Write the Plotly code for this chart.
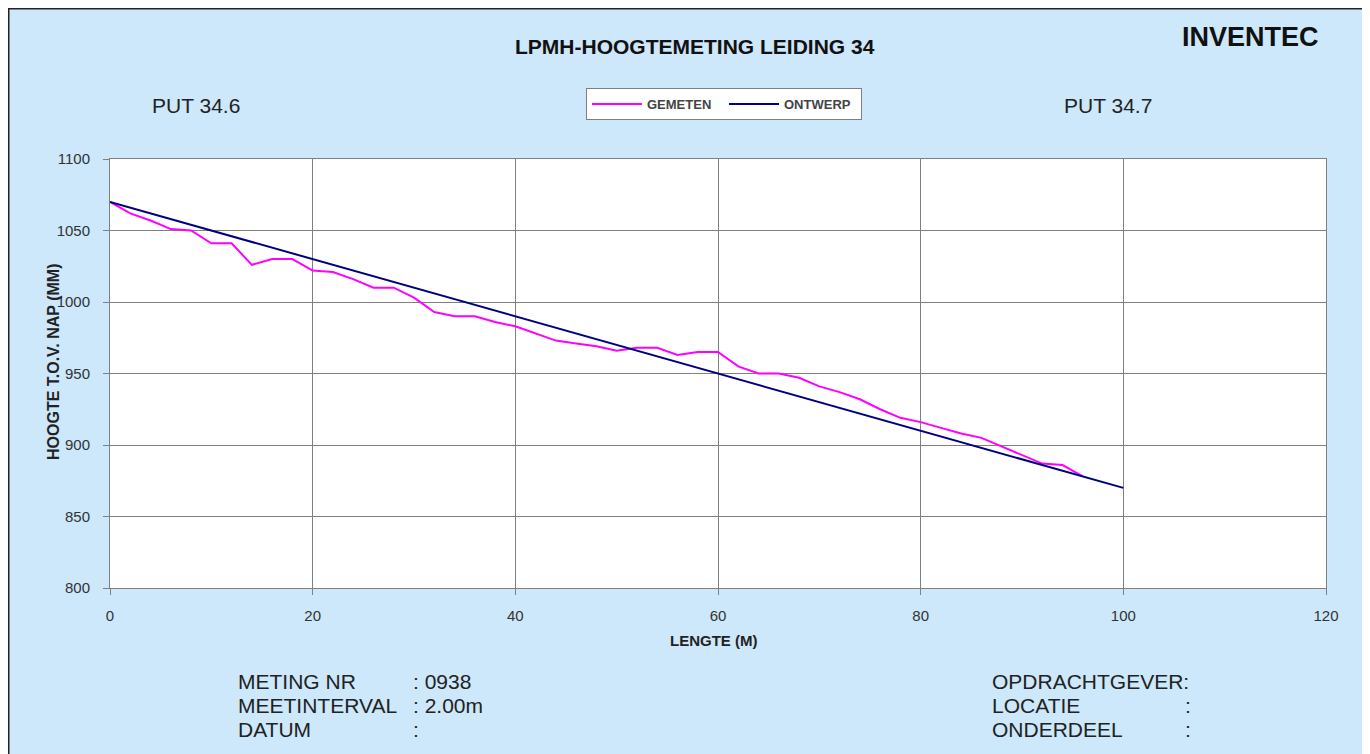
import plotly.graph_objects as go

# ---- data ----
lengte_gemeten = [0, 2, 4, 6, 8, 10, 12, 14, 16, 18, 20, 22, 24, 26, 28, 30, 32, 34, 36, 38,
                  40, 42, 44, 46, 48, 50, 52, 54, 56, 58, 60, 62, 64, 66, 68, 70, 72, 74, 76, 78,
                  80, 82, 84, 86, 88, 90, 92, 94, 96]
hoogte_gemeten = [1070, 1062, 1057, 1051, 1050, 1041, 1041, 1026, 1030, 1030, 1022, 1021, 1016, 1010, 1010, 1003,
                  993, 990, 990, 986, 983, 978, 973, 971, 969, 966, 968, 968, 963, 965, 965, 955,
                  950, 950, 947, 941, 937, 932, 925, 919, 916, 912, 908, 905, 899, 893, 887, 886, 878]
lengte_ontwerp = [0, 100]
hoogte_ontwerp = [1070, 870]

x_ticks = [0, 20, 40, 60, 80, 100, 120]
y_ticks = [800, 850, 900, 950, 1000, 1050, 1100]

OFF = 8  # page body margin
W, H = 1370 - OFF, 754 - OFF
L, R, T, B = 110 - OFF, 1326 - OFF, 159 - OFF, 588 - OFF
BG = "#CCE8FA"
FONT = "Arial, Liberation Sans, sans-serif"


def px(x):
    # x given in page pixels
    return (x - OFF - L) / (R - L)


def py(y):
    return (B - (y - OFF)) / (B - T)


fig = go.Figure()
fig.add_trace(go.Scatter(x=lengte_gemeten, y=hoogte_gemeten, mode="lines", name="GEMETEN",
                         line=dict(color="#FF00FF", width=2)))
fig.add_trace(go.Scatter(x=lengte_ontwerp, y=hoogte_ontwerp, mode="lines", name="ONTWERP",
                         line=dict(color="#000080", width=2)))

axis_common = dict(showgrid=True, gridcolor="#808080", gridwidth=1, showline=True, linecolor="#808080",
                   linewidth=1, mirror=True, ticks="outside", ticklen=6, tickcolor="#808080",
                   tickfont=dict(family=FONT, size=15, color="#333333"), zeroline=False)

fig.update_xaxes(range=[0, 120], tickvals=x_ticks, ticklabelstandoff=8, **axis_common)
fig.update_yaxes(range=[800, 1100], tickvals=y_ticks, ticklabelstandoff=10, **axis_common)

ann = []


def text(x, y, s, size, bold=False, xanchor="left", color="#222222", angle=0):
    ann.append(dict(x=px(x), y=py(y), xref="paper", yref="paper", text=("<b>%s</b>" % s) if bold else s,
                    showarrow=False, xanchor=xanchor, yanchor="middle", textangle=angle,
                    font=dict(family=FONT, size=size, color=color)))


text(695, 47, "LPMH-HOOGTEMETING LEIDING 34", 21, bold=True, xanchor="center", color="#111111")
text(1250, 37, "INVENTEC", 27, bold=True, xanchor="center", color="#111111")
text(150, 105, "PUT 34.6", 21)
text(1062, 105, "PUT 34.7", 21)
text(714, 640, "LENGTE (M)", 15, bold=True, xanchor="center")
text(53, 362, "HOOGTE T.O.V. NAP (MM)", 16, bold=True, xanchor="center", angle=-90)

text(236, 681, "METING NR", 21)
text(236, 705, "MEETINTERVAL", 21)
text(236, 729, "DATUM", 21)
text(411, 681, ": 0938", 21)
text(411, 705, ": 2.00m", 21)
text(411, 729, ":", 21)
text(990, 681, "OPDRACHTGEVER:", 21)
text(990, 705, "LOCATIE", 21)
text(990, 729, "ONDERDEEL", 21)
text(1183, 705, ":", 21)
text(1183, 729, ":", 21)

shapes = [
    # white strip right of the frame
    dict(type="rect", xref="paper", yref="paper", x0=px(1367), x1=px(1380), y0=py(770), y1=py(-5),
         fillcolor="white", line=dict(width=0), layer="below"),
    # frame
    dict(type="rect", xref="paper", yref="paper", x0=px(8), x1=px(1367), y0=py(790), y1=py(8),
         fillcolor="rgba(0,0,0,0)", line=dict(color="#222222", width=3)),
]

fig.update_layout(
    width=W, height=H,
    margin=dict(l=L, r=W - R, t=T, b=H - B),
    paper_bgcolor=BG, plot_bgcolor="white",
    annotations=ann, shapes=shapes,
    showlegend=True,
    legend=dict(orientation="h", x=px(586), y=py(88), xanchor="left", yanchor="top",
                bgcolor="white", bordercolor="#808080", borderwidth=1,
                font=dict(family=FONT, size=13, color="#444444", weight="bold"),
                itemwidth=50, entrywidth=72, tracegroupgap=0),
)

fig.write_html("out.html")
